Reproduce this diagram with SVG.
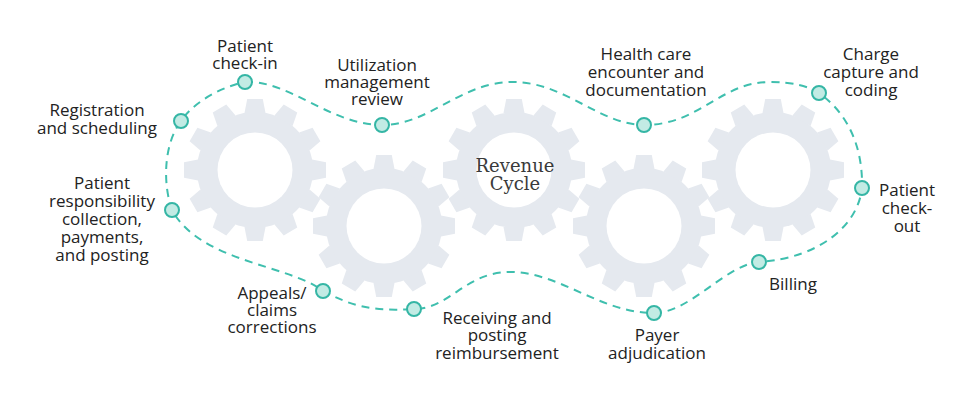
<svg xmlns="http://www.w3.org/2000/svg" xmlns:xlink="http://www.w3.org/1999/xlink" width="968" height="404" viewBox="0 0 968 404">
  <style>
    .gear { fill: #e5e9ef; }
    .hole { fill: #ffffff; }
    .lbl { font-family: "Open Sans", "Liberation Sans", sans-serif; font-size: 17px; fill: #222222; text-anchor: middle; }
    .center { font-family: "DejaVu Serif", "Liberation Serif", serif; font-size: 18px; fill: #3a3a3a; text-anchor: middle; }
    .flow { fill: none; stroke: #3fbfae; stroke-width: 2; stroke-dasharray: 8 6; }
    .dot { fill: #c2ebe4; stroke: #35b6a5; stroke-width: 2; }
  </style>
  <defs>
    <path id="tooth" d="M-10.5,-57 L-7.8,-71 L7.8,-71 L10.5,-57 Z"/>
    <g id="gearShape">
      <circle r="58"/>
      <use xlink:href="#tooth"/>
      <use xlink:href="#tooth" transform="rotate(30)"/>
      <use xlink:href="#tooth" transform="rotate(60)"/>
      <use xlink:href="#tooth" transform="rotate(90)"/>
      <use xlink:href="#tooth" transform="rotate(120)"/>
      <use xlink:href="#tooth" transform="rotate(150)"/>
      <use xlink:href="#tooth" transform="rotate(180)"/>
      <use xlink:href="#tooth" transform="rotate(210)"/>
      <use xlink:href="#tooth" transform="rotate(240)"/>
      <use xlink:href="#tooth" transform="rotate(270)"/>
      <use xlink:href="#tooth" transform="rotate(300)"/>
      <use xlink:href="#tooth" transform="rotate(330)"/>
    </g>
  </defs>
  <rect width="968" height="404" fill="#ffffff"/>

  <g id="gears">
    <g id="gear1" class="gear"><use xlink:href="#gearShape" transform="translate(255,170)"/><circle class="hole" cx="255" cy="170" r="37.5"/></g>
    <g id="gear2" class="gear"><use xlink:href="#gearShape" transform="translate(384,226)"/><circle class="hole" cx="384" cy="226" r="37.5"/></g>
    <g id="gear3" class="gear"><use xlink:href="#gearShape" transform="translate(514,170)"/><circle class="hole" cx="514" cy="170" r="37.5"/></g>
    <g id="gear4" class="gear"><use xlink:href="#gearShape" transform="translate(644,226)"/><circle class="hole" cx="644" cy="226" r="37.5"/></g>
    <g id="gear5" class="gear"><use xlink:href="#gearShape" transform="translate(773,170)"/><circle class="hole" cx="773" cy="170" r="37.5"/></g>
  </g>

  <g id="revenue-cycle">
    <text class="center" x="515" y="172">Revenue</text>
    <text class="center" x="515" y="190">Cycle</text>
  </g>

  <g id="connectors">
    <path class="flow" d="M245,82 C290,80 330,125 382,125 C430,125 460,82 513,82 C565,82 600,125 644,125 C700,125 720,82 770,82 C792,82 808,86 819,93 C850,115 863,150 862,188 C858,225 820,258 759,262 C725,265 690,313 654,313 C600,313 560,272 510,272 C465,272 450,309 414,309 C370,312 350,305 323,291 C290,265 200,262 172,210 C163,185 163,145 181,121 C195,100 225,86 245,82 Z"/>
  </g>

  <g id="n-checkin">
    <circle class="dot" cx="245" cy="82" r="7"/>
    <text class="lbl" x="245" y="52">Patient</text>
    <text class="lbl" x="245" y="69">check-in</text>
  </g>
  <g id="n-registration">
    <circle class="dot" cx="181" cy="121" r="7"/>
    <text class="lbl" x="97" y="116">Registration</text>
    <text class="lbl" x="97" y="134">and scheduling</text>
  </g>
  <g id="n-responsibility">
    <circle class="dot" cx="172" cy="210" r="7"/>
    <text class="lbl" x="102" y="189">Patient</text>
    <text class="lbl" x="102" y="207">responsibility</text>
    <text class="lbl" x="102" y="225">collection,</text>
    <text class="lbl" x="102" y="243">payments,</text>
    <text class="lbl" x="102" y="261">and posting</text>
  </g>
  <g id="n-utilization">
    <circle class="dot" cx="382" cy="125" r="7"/>
    <text class="lbl" x="377" y="71">Utilization</text>
    <text class="lbl" x="377" y="88">management</text>
    <text class="lbl" x="377" y="105">review</text>
  </g>
  <g id="n-encounter">
    <circle class="dot" cx="644" cy="125" r="7"/>
    <text class="lbl" x="646" y="60">Health care</text>
    <text class="lbl" x="646" y="78">encounter and</text>
    <text class="lbl" x="646" y="96">documentation</text>
  </g>
  <g id="n-charge">
    <circle class="dot" cx="819" cy="93" r="7"/>
    <text class="lbl" x="871" y="60">Charge</text>
    <text class="lbl" x="871" y="78">capture and</text>
    <text class="lbl" x="871" y="96">coding</text>
  </g>
  <g id="n-checkout">
    <circle class="dot" cx="862" cy="188" r="7"/>
    <text class="lbl" x="907" y="196">Patient</text>
    <text class="lbl" x="907" y="214">check-</text>
    <text class="lbl" x="907" y="232">out</text>
  </g>
  <g id="n-billing">
    <circle class="dot" cx="759" cy="262" r="7"/>
    <text class="lbl" x="793" y="290">Billing</text>
  </g>
  <g id="n-payer">
    <circle class="dot" cx="654" cy="313" r="7"/>
    <text class="lbl" x="657" y="341">Payer</text>
    <text class="lbl" x="657" y="359">adjudication</text>
  </g>
  <g id="n-receiving">
    <circle class="dot" cx="414" cy="309" r="7"/>
    <text class="lbl" x="497" y="324">Receiving and</text>
    <text class="lbl" x="497" y="341">posting</text>
    <text class="lbl" x="497" y="359">reimbursement</text>
  </g>
  <g id="n-appeals">
    <circle class="dot" cx="323" cy="291" r="7"/>
    <text class="lbl" x="272" y="299">Appeals/</text>
    <text class="lbl" x="272" y="316">claims</text>
    <text class="lbl" x="272" y="333">corrections</text>
  </g>
</svg>
